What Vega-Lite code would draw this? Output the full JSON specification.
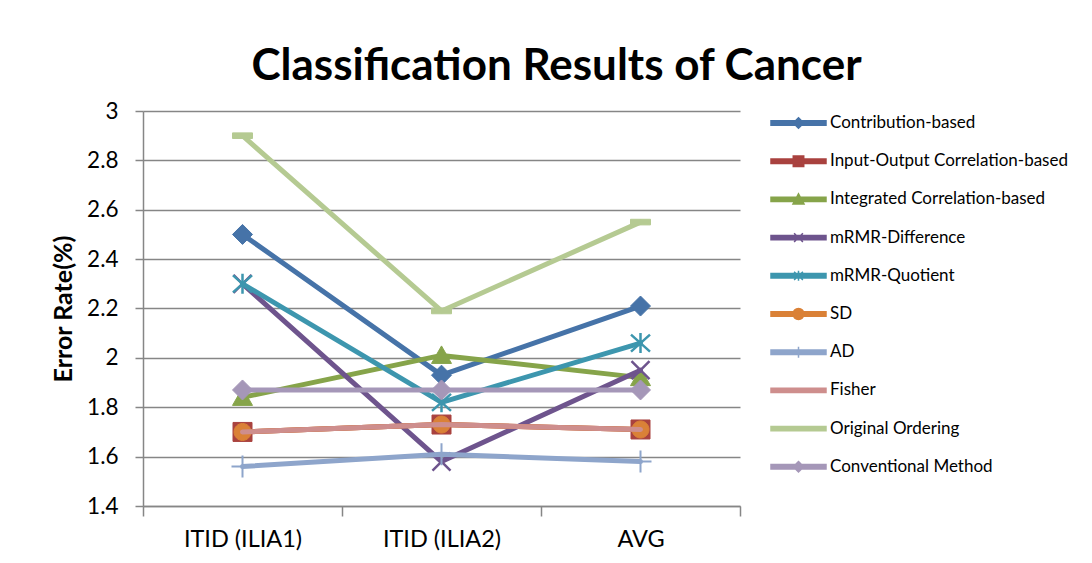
{
  "$schema": "https://vega.github.io/schema/vega-lite/v6.json",
  "width": 597,
  "height": 395,
  "autosize": {"type": "none"},
  "padding": {"left": 143, "top": 111, "right": 352, "bottom": 57},
  "background": "white",
  "title": {
    "text": "Classification Results of Cancer",
    "font": "Lato",
    "fontSize": 44,
    "fontWeight": "bold",
    "color": "#000000",
    "anchor": "middle",
    "frame": "group",
    "dx": 115,
    "offset": 11
  },
  "config": {
    "view": {"stroke": null},
    "font": "Lato"
  },
  "data": {
    "values": [
      {"series": "Contribution-based", "cat": "ITID (ILIA1)", "value": 2.50},
      {"series": "Contribution-based", "cat": "ITID (ILIA2)", "value": 1.93},
      {"series": "Contribution-based", "cat": "AVG", "value": 2.21},
      {"series": "Input-Output Correlation-based", "cat": "ITID (ILIA1)", "value": 1.70},
      {"series": "Input-Output Correlation-based", "cat": "ITID (ILIA2)", "value": 1.73},
      {"series": "Input-Output Correlation-based", "cat": "AVG", "value": 1.71},
      {"series": "Integrated Correlation-based", "cat": "ITID (ILIA1)", "value": 1.84},
      {"series": "Integrated Correlation-based", "cat": "ITID (ILIA2)", "value": 2.01},
      {"series": "Integrated Correlation-based", "cat": "AVG", "value": 1.92},
      {"series": "mRMR-Difference", "cat": "ITID (ILIA1)", "value": 2.30},
      {"series": "mRMR-Difference", "cat": "ITID (ILIA2)", "value": 1.58},
      {"series": "mRMR-Difference", "cat": "AVG", "value": 1.95},
      {"series": "mRMR-Quotient", "cat": "ITID (ILIA1)", "value": 2.30},
      {"series": "mRMR-Quotient", "cat": "ITID (ILIA2)", "value": 1.82},
      {"series": "mRMR-Quotient", "cat": "AVG", "value": 2.06},
      {"series": "SD", "cat": "ITID (ILIA1)", "value": 1.70},
      {"series": "SD", "cat": "ITID (ILIA2)", "value": 1.73},
      {"series": "SD", "cat": "AVG", "value": 1.71},
      {"series": "AD", "cat": "ITID (ILIA1)", "value": 1.56},
      {"series": "AD", "cat": "ITID (ILIA2)", "value": 1.61},
      {"series": "AD", "cat": "AVG", "value": 1.58},
      {"series": "Fisher", "cat": "ITID (ILIA1)", "value": 1.70},
      {"series": "Fisher", "cat": "ITID (ILIA2)", "value": 1.73},
      {"series": "Fisher", "cat": "AVG", "value": 1.71},
      {"series": "Original Ordering", "cat": "ITID (ILIA1)", "value": 2.90},
      {"series": "Original Ordering", "cat": "ITID (ILIA2)", "value": 2.19},
      {"series": "Original Ordering", "cat": "AVG", "value": 2.55},
      {"series": "Conventional Method", "cat": "ITID (ILIA1)", "value": 1.87},
      {"series": "Conventional Method", "cat": "ITID (ILIA2)", "value": 1.87},
      {"series": "Conventional Method", "cat": "AVG", "value": 1.87}
    ]
  },
  "encoding": {
    "x": {
      "field": "cat",
      "type": "nominal",
      "sort": null,
      "scale": {"type": "band", "domain": ["ITID (ILIA1)", "ITID (ILIA2)", "AVG"], "paddingInner": 0, "paddingOuter": 0},
      "axis": {
        "title": null,
        "labelAngle": 0,
        "labelFont": "Lato",
        "labelFontSize": 23.5,
        "labelColor": "#000000",
        "labelPadding": 11,
        "tickBand": "extent",
        "ticks": true,
        "tickSize": 10,
        "tickColor": "#868686",
        "tickWidth": 1.5,
        "domain": true,
        "domainColor": "#868686",
        "domainWidth": 1.5,
        "grid": false
      }
    },
    "y": {
      "field": "value",
      "type": "quantitative",
      "scale": {"domain": [1.4, 3], "nice": false, "zero": false},
      "axis": {
        "title": "Error Rate(%)",
        "titleFont": "Lato",
        "titleFontSize": 25,
        "titleFontWeight": "bold",
        "titleColor": "#000000",
        "titlePadding": 10,
        "values": [1.4, 1.6, 1.8, 2, 2.2, 2.4, 2.6, 2.8, 3],
        "format": "~g",
        "labelFont": "Lato",
        "labelFontSize": 22.5,
        "labelColor": "#000000",
        "labelPadding": 17,
        "tickSize": 8,
        "tickColor": "#868686",
        "tickWidth": 1.5,
        "domainColor": "#868686",
        "domainWidth": 1.5,
        "grid": true,
        "gridColor": "#868686",
        "gridWidth": 1.5
      }
    }
  },
  "layer": [
    {"transform": [{"filter": "datum.series == 'Contribution-based'"}],
     "mark": {"type": "line", "color": "#4673A8", "strokeWidth": 5, "strokeJoin": "round", "strokeCap": "round"}},
    {"transform": [{"filter": "datum.series == 'Contribution-based'"}],
     "mark": {"type": "point", "shape": "M0,-1L1,0L0,1L-1,0Z", "size": 400, "filled": true, "color": "#4673A8", "stroke": "#4673A8", "strokeWidth": 1, "opacity": 1}},
    {"transform": [{"filter": "datum.series == 'Input-Output Correlation-based'"}],
     "mark": {"type": "line", "color": "#A9423F", "strokeWidth": 5, "strokeJoin": "round", "strokeCap": "round"}},
    {"transform": [{"filter": "datum.series == 'Input-Output Correlation-based'"}],
     "mark": {"type": "point", "shape": "M-0.95,-0.95H0.95V0.95H-0.95Z", "size": 400, "filled": true, "color": "#A9423F", "stroke": "#A9423F", "strokeWidth": 1, "opacity": 1}},
    {"transform": [{"filter": "datum.series == 'Integrated Correlation-based'"}],
     "mark": {"type": "line", "color": "#86A44A", "strokeWidth": 5, "strokeJoin": "round", "strokeCap": "round"}},
    {"transform": [{"filter": "datum.series == 'Integrated Correlation-based'"}],
     "mark": {"type": "point", "shape": "M0,-0.95L1,0.8H-1Z", "size": 400, "filled": true, "color": "#86A44A", "stroke": "#86A44A", "strokeWidth": 1, "opacity": 1}},
    {"transform": [{"filter": "datum.series == 'mRMR-Difference'"}],
     "mark": {"type": "line", "color": "#6E548D", "strokeWidth": 5, "strokeJoin": "round", "strokeCap": "round"}},
    {"transform": [{"filter": "datum.series == 'mRMR-Difference'"}],
     "mark": {"type": "point", "shape": "M-0.9,-0.9L0.9,0.9M-0.9,0.9L0.9,-0.9", "size": 400, "filled": false, "color": "#6E548D", "strokeWidth": 2.5, "opacity": 1}},
    {"transform": [{"filter": "datum.series == 'mRMR-Quotient'"}],
     "mark": {"type": "line", "color": "#3D96AE", "strokeWidth": 5, "strokeJoin": "round", "strokeCap": "round"}},
    {"transform": [{"filter": "datum.series == 'mRMR-Quotient'"}],
     "mark": {"type": "point", "shape": "M-0.95,-0.85L0.95,0.85M-0.95,0.85L0.95,-0.85M0,-1V1", "size": 400, "filled": false, "color": "#3D96AE", "strokeWidth": 2.5, "opacity": 1}},
    {"transform": [{"filter": "datum.series == 'SD'"}],
     "mark": {"type": "line", "color": "#DA8137", "strokeWidth": 5, "strokeJoin": "round", "strokeCap": "round"}},
    {"transform": [{"filter": "datum.series == 'SD'"}],
     "mark": {"type": "point", "shape": "M-0.85,0A0.85,0.85,0,1,1,0.85,0A0.85,0.85,0,1,1,-0.85,0Z", "size": 400, "filled": true, "color": "#DA8137", "stroke": "#DA8137", "strokeWidth": 1, "opacity": 1}},
    {"transform": [{"filter": "datum.series == 'AD'"}],
     "mark": {"type": "line", "color": "#8EA5CB", "strokeWidth": 5, "strokeJoin": "round", "strokeCap": "round"}},
    {"transform": [{"filter": "datum.series == 'AD'"}],
     "mark": {"type": "point", "shape": "M-1.1,0H1.1M0,-1.1V1.1", "size": 400, "filled": false, "color": "#8EA5CB", "strokeWidth": 2, "opacity": 1}},
    {"transform": [{"filter": "datum.series == 'Fisher'"}],
     "mark": {"type": "line", "color": "#CE8E8D", "strokeWidth": 5, "strokeJoin": "round", "strokeCap": "round"}},
    {"transform": [{"filter": "datum.series == 'Original Ordering'"}],
     "mark": {"type": "line", "color": "#B5CA92", "strokeWidth": 5, "strokeJoin": "round", "strokeCap": "round"}},
    {"transform": [{"filter": "datum.series == 'Original Ordering'"}],
     "mark": {"type": "point", "shape": "M-1,-0.28H1V0.28H-1Z", "size": 400, "filled": true, "color": "#B5CA92", "stroke": "#B5CA92", "strokeWidth": 1, "opacity": 1}},
    {"transform": [{"filter": "datum.series == 'Conventional Method'"}],
     "mark": {"type": "line", "color": "#A597B8", "strokeWidth": 5, "strokeJoin": "round", "strokeCap": "round"}},
    {"transform": [{"filter": "datum.series == 'Conventional Method'"}],
     "mark": {"type": "point", "shape": "M0,-1L1,0L0,1L-1,0Z", "size": 400, "filled": true, "color": "#A597B8", "stroke": "#A597B8", "strokeWidth": 1, "opacity": 1}},
    {
      "transform": [{"filter": "false"}],
      "mark": {"type": "point", "filled": true, "opacity": 1},
      "encoding": {
        "color": {
          "field": "series",
          "type": "nominal",
          "scale": {
            "domain": ["Contribution-based", "Input-Output Correlation-based", "Integrated Correlation-based", "mRMR-Difference", "mRMR-Quotient", "SD", "AD", "Fisher", "Original Ordering", "Conventional Method"],
            "range": ["#4673A8", "#A9423F", "#86A44A", "#6E548D", "#3D96AE", "#DA8137", "#8EA5CB", "#CE8E8D", "#B5CA92", "#A597B8"]
          },
          "legend": {
            "title": null,
            "orient": "none",
            "legendX": 627,
            "legendY": -7,
            "padding": 0,
            "symbolSize": 3025,
            "clipHeight": 38,
            "rowPadding": 0.2,
            "symbolOffset": 0,
            "symbolOpacity": 1,
            "symbolStrokeWidth": 1.5,
            "labelOffset": 3,
            "labelFont": "Lato",
            "labelFontSize": 17,
            "labelColor": "#000000",
            "labelLimit": 400,
            "encode": {
              "symbols": {
                "update": {
                  "stroke": {"scale": "color", "field": "value"},
                  "fill": {"scale": "color", "field": "value"},
                  "strokeWidth": {"value": 1.5}
                }
              }
            }
          }
        },
        "shape": {
          "field": "series",
          "type": "nominal",
          "scale": {
            "domain": ["Contribution-based", "Input-Output Correlation-based", "Integrated Correlation-based", "mRMR-Difference", "mRMR-Quotient", "SD", "AD", "Fisher", "Original Ordering", "Conventional Method"],
            "range": [
              "M-1,-0.08H1V0.08H-1ZM0,-0.19L0.19,0L0,0.19L-0.19,0Z",
              "M-1,-0.08H1V0.08H-1ZM-0.19,-0.19H0.19V0.19H-0.19Z",
              "M-1,-0.08H1V0.08H-1ZM0,-0.2L0.2,0.17H-0.2Z",
              "M-1,-0.08H1V0.08H-1ZM-0.16,-0.16L0.16,0.16M-0.16,0.16L0.16,-0.16",
              "M-1,-0.08H1V0.08H-1ZM-0.16,-0.15L0.16,0.15M-0.16,0.15L0.16,-0.15M0,-0.18V0.18",
              "M-1,-0.08H1V0.08H-1ZM-0.2,0A0.2,0.2,0,1,1,0.2,0A0.2,0.2,0,1,1,-0.2,0Z",
              "M-1,-0.08H1V0.08H-1ZM0,-0.2V0.2",
              "M-1,-0.08H1V0.08H-1Z",
              "M-1,-0.08H1V0.08H-1Z",
              "M-1,-0.08H1V0.08H-1ZM0,-0.19L0.19,0L0,0.19L-0.19,0Z"
            ]
          },
          "legend": {
            "title": null
          }
        }
      }
    }
  ]
}
